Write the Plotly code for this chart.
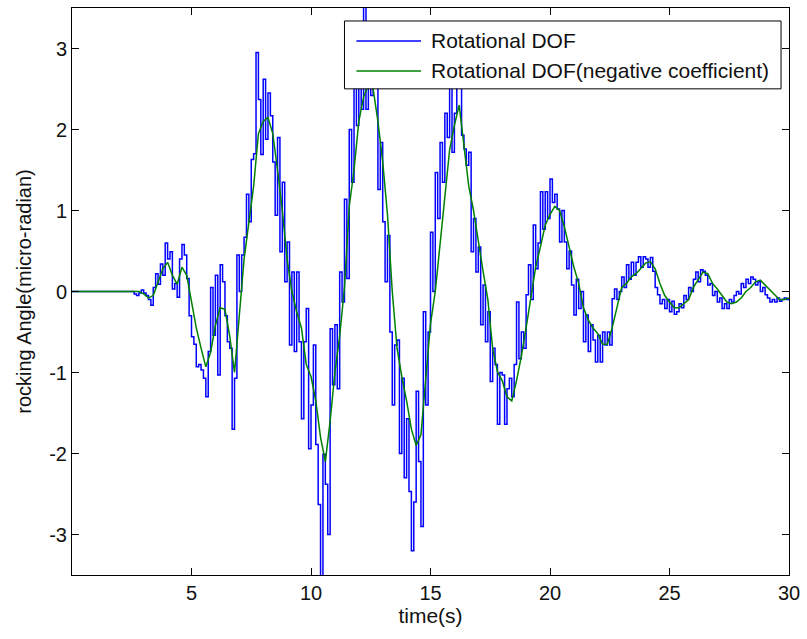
import numpy as np
import plotly.graph_objects as go

# Rocking angle response (micro-radian) of the rotational DOF, sampled every 0.1 s from t = 2.5 s
blue_t0, blue_dt = 2.5, 0.1
rot_dof = [
    0.0, -0.03, -0.05, -0.02, 0.02,                                    # 2.5-2.9
    -0.02, -0.05, -0.1, -0.17, 0.05, 0.22, 0.09, 0.34, 0.2, 0.6,       # 3
    0.4, 0.49, 0.03, 0.1, -0.07, 0.4, 0.58, 0.45, 0.16, -0.3,          # 4
    -0.56, -0.65, -0.93, -0.9, -0.97, -1.07, -1.3, -0.74, 0.05, -0.54,  # 5
    0.2, -1.03, 0.33, 0.12, -0.3, -0.62, -0.7, -1.7, -1.07, 0.45,      # 6
    0.0, 0.45, 0.67, 1.2, 0.86, 1.63, 1.7, 2.95, 2.37, 1.69,           # 7
    2.62, 1.88, 2.45, 2.17, 1.6, 0.94, 1.9, 0.49, 1.35, 0.12,          # 8
    0.61, -0.66, 0.24, -0.74, 0.24, -0.62, -1.57, -0.62, -0.21, -1.94,  # 9
    -1.4, -0.66, -1.89, -2.63, -3.7, -2.01, -2.38, -3.0, -0.46, -1.15,  # 10
    -0.41, -1.2, 0.24, -0.13, 1.14, 0.16, 2.0, 1.35, 2.54, 2.05,       # 11
    2.79, 2.25, 3.7, 2.25, 3.2, 2.42, 2.9, 2.6, 1.26, 1.84,            # 12
    0.86, 0.12, 0.69, -0.5, -1.4, -0.66, -0.6, -2.0, -1.07, -2.3,      # 13
    -1.57, -2.47, -3.2, -2.6, -1.23, -2.1, -2.9, -0.25, -1.4, -0.5,    # 14
    0.73, 0.0, 1.47, 0.9, 1.84, 1.35, 2.2, 1.9, 2.9, 1.72,             # 15
    2.2, 2.9, 2.54, 1.93, 1.76, 1.56, 1.72, 0.49, 0.9, 0.24,           # 16
    0.55, -0.41, 0.08, -0.62, -0.25, -1.11, -0.7, -0.9, -1.64, -1.0,   # 17
    -1.03, -1.64, -1.2, -1.07, -1.3, -0.9, -0.13, -0.83, -0.5, -0.7,   # 18
    -0.04, 0.33, -0.1, 0.82, 0.28, 0.6, 1.23, 0.77, 1.23, 0.9,         # 19
    1.39, 1.1, 1.2, 1.02, 0.61, 1.0, 0.61, 0.28, 0.5, 0.08,            # 20
    -0.29, 0.15, -0.21, 0.0, -0.62, -0.29, -0.74, -0.41, -0.6, -0.87,  # 21
    -0.54, -0.87, -0.5, -0.66, -0.5, -0.66, -0.09, 0.03, -0.1, 0.0,    # 22
    0.18, 0.05, 0.33, 0.15, 0.36, 0.2, 0.36, 0.43, 0.3, 0.43,          # 23
    0.4, 0.3, 0.42, 0.25, 0.05, -0.04, -0.15, -0.1, -0.21, -0.1,       # 24
    -0.25, -0.12, -0.28, -0.25, -0.15, -0.2, -0.05, -0.1, 0.05, 0.0,   # 25
    0.15, 0.24, 0.12, 0.27, 0.25, 0.2, 0.08, 0.1, -0.05, 0.0,          # 26
    -0.13, -0.08, -0.21, -0.15, -0.21, -0.1, -0.13, -0.05, 0.0, -0.03,  # 27
    0.1, 0.05, 0.15, 0.1, 0.18, 0.15, 0.08, 0.12, 0.0, 0.05,           # 28
    -0.04, -0.08, -0.13, -0.1, -0.13, -0.08, -0.12, -0.1, -0.08, -0.1,  # 29
    -0.09,                                                             # 30
]

# Same response with the negative coefficient, sampled every 0.2 s from t = 0
green_dt = 0.2
rot_dof_neg = [
    0, 0, 0, 0, 0,                          # 0
    0, 0, 0, 0, 0,                          # 1
    0, 0, 0, 0, 0,                          # 2
    -0.03, -0.08, -0.05, 0.12, 0.28,        # 3
    0.36, 0.2, 0.09, 0.3, 0.2,              # 4
    -0.15, -0.45, -0.7, -0.93, -0.75,       # 5
    -0.42, -0.2, -0.22, -0.55, -1.0,        # 6
    -0.3, 0.4, 0.85, 1.3, 1.95,             # 7
    2.1, 2.15, 1.95, 1.5, 1.0,              # 8
    0.4, 0.0, -0.25, -0.45, -0.9,           # 9
    -1.05, -1.35, -1.8, -2.1, -1.6,         # 10
    -1.0, -0.55, 0.05, 1.05, 1.5,           # 11
    2.1, 2.4, 2.55, 2.5, 2.1,               # 12
    1.6, 0.95, 0.0, -0.7, -1.05,            # 13
    -1.35, -1.7, -1.9, -1.77, -1.07,        # 14
    -0.4, 0.0, 0.6, 1.15, 1.75,             # 15
    2.05, 2.3, 1.8, 1.3, 1.0,               # 16
    0.6, 0.25, -0.1, -0.7, -0.99,           # 17
    -1.1, -1.3, -1.35, -1.1, -0.8,          # 18
    -0.45, -0.1, 0.3, 0.55, 0.82,           # 19
    0.95, 1.05, 1.0, 0.8, 0.55,             # 20
    0.3, 0.1, -0.2, -0.35, -0.45,           # 21
    -0.52, -0.65, -0.65, -0.45, -0.2,       # 22
    0.05, 0.1, 0.18, 0.22, 0.28,            # 23
    0.35, 0.37, 0.28, 0.1, -0.05,           # 24
    -0.13, -0.2, -0.2, -0.15, -0.1,         # 25
    0.05, 0.15, 0.24, 0.22, 0.1,            # 26
    0.03, -0.05, -0.13, -0.15, -0.13,       # 27
    -0.08, 0.0, 0.05, 0.12, 0.14,           # 28
    0.08, 0.02, -0.05, -0.1, -0.1,          # 29
    -0.08,                                  # 30
]

x_ticks = [5, 10, 15, 20, 25, 30]
y_ticks = [-3, -2, -1, 0, 1, 2, 3]
y_tick_text = ["-3", "-2", "-1", "0", "1", "2", "3"]
series_names = ["Rotational DOF", "Rotational DOF(negative coefficient)"]
series_colors = ["#0000ff", "#008000"]

t_blue = np.round(blue_t0 + blue_dt * np.arange(len(rot_dof)), 3)
t_blue = np.concatenate([[0.0], t_blue])
y_blue = [0.0] + rot_dof
t_green = np.round(green_dt * np.arange(len(rot_dof_neg)), 3)

FONT = "Liberation Sans, Arial, sans-serif"
TXT = "#111111"

fig = go.Figure()
# fast-sampled trace drawn as a staircase, the smoother one on top
fig.add_trace(go.Scatter(x=t_blue, y=y_blue, mode="lines", line_shape="hv",
                         line=dict(color=series_colors[0], width=1.5),
                         name=series_names[0], showlegend=False))
fig.add_trace(go.Scatter(x=t_green, y=rot_dof_neg, mode="lines",
                         line=dict(color=series_colors[1], width=1.5),
                         name=series_names[1], showlegend=False))

# Boxed legend in the top right corner of the axes
L, R, T, B = 72, 793, 7, 575
W, H = R - L, B - T
px = lambda v: (v - L) / W
py = lambda v: (B - v) / H
shapes = [dict(type="rect", xref="paper", yref="paper",
               x0=px(346), x1=px(785), y0=py(88), y1=py(20),
               line=dict(color="black", width=1), fillcolor="white", layer="above")]
annotations = []
for i, (name, col) in enumerate(zip(series_names, series_colors)):
    yy = py(40 + 30 * i)
    shapes.append(dict(type="line", xref="paper", yref="paper",
                       x0=px(358), x1=px(423), y0=yy, y1=yy,
                       line=dict(color=col, width=1.5), layer="above"))
    annotations.append(dict(xref="paper", yref="paper", x=px(431), y=yy,
                            text=name, showarrow=False, xanchor="left", yanchor="middle",
                            font=dict(family=FONT, size=21, color=TXT)))

axis_common = dict(showline=True, linecolor="black", linewidth=1, mirror="ticks",
                   ticks="inside", ticklen=7, tickcolor="black", tickwidth=1,
                   showgrid=False, zeroline=False,
                   tickfont=dict(family=FONT, size=20, color=TXT))

fig.update_layout(
    width=807, height=639,
    margin=dict(l=L, r=807 - R, t=T, b=639 - B),
    paper_bgcolor="white", plot_bgcolor="white",
    xaxis=dict(range=[0, 30], tickvals=x_ticks,
               title=dict(text="time(s)", font=dict(family=FONT, size=21, color=TXT), standoff=4),
               **axis_common),
    yaxis=dict(range=[-3.5, 3.5], tickvals=y_ticks, ticktext=y_tick_text,
               title=dict(text="rocking Angle(micro-radian)", font=dict(family=FONT, size=20, color=TXT), standoff=12),
               **axis_common),
    shapes=shapes, annotations=annotations,
)

fig.write_html("out.html")
